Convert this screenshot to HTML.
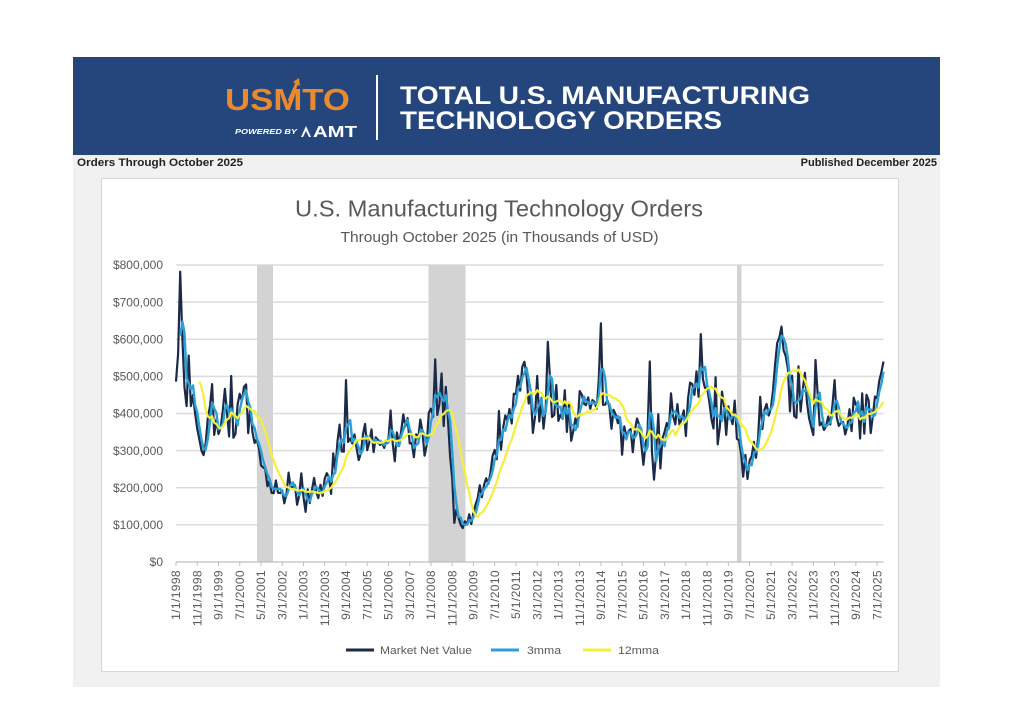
<!DOCTYPE html>
<html><head><meta charset="utf-8"><style>
html,body{margin:0;padding:0;background:#fff;}
svg{display:block;}
text{font-family:"Liberation Sans",sans-serif;}
</style></head><body>
<svg id="s" width="1024" height="728" viewBox="0 0 1024 728" xmlns="http://www.w3.org/2000/svg">
<rect width="1024" height="728" fill="#fff"/>
<rect x="73" y="155" width="867" height="532" fill="#f1f1f1"/>
<rect x="73" y="57" width="867" height="98" fill="#25467d"/>
<!-- logo -->
<text x="225" y="110" font-size="31" font-weight="bold" fill="#e98a2c" textLength="125" lengthAdjust="spacingAndGlyphs">USMTO</text>
<path d="M289 101 L297 83" stroke="#e98a2c" stroke-width="3"/>
<path d="M293 82 L299 78 L300 86 Z" fill="#e98a2c"/>
<text x="235" y="134" font-size="7.5" font-weight="bold" font-style="italic" fill="#fff" textLength="62" lengthAdjust="spacingAndGlyphs">POWERED BY</text>
<path d="M301 137 L306 126 L311 137 Z M303 137 L306 131 L309 137 Z" fill="#fff" fill-rule="evenodd"/>
<text x="313" y="137" font-size="16" font-weight="bold" fill="#fff" textLength="44" lengthAdjust="spacingAndGlyphs">AMT</text>
<rect x="376" y="75" width="2" height="65" fill="#fff"/>
<text x="400" y="104" font-size="25" font-weight="bold" fill="#fff" textLength="410" lengthAdjust="spacingAndGlyphs">TOTAL U.S. MANUFACTURING</text>
<text x="400" y="129" font-size="25" font-weight="bold" fill="#fff" textLength="322" lengthAdjust="spacingAndGlyphs">TECHNOLOGY ORDERS</text>
<text x="77" y="166" font-size="11" font-weight="bold" fill="#222" textLength="166" lengthAdjust="spacingAndGlyphs">Orders Through October 2025</text>
<text x="937" y="166" font-size="11" font-weight="bold" fill="#222" text-anchor="end">Published December 2025</text>
<!-- chart box -->
<rect x="101.5" y="178.5" width="797" height="493" fill="#fff" stroke="#d6d6d6" stroke-width="1"/>
<text x="499" y="216.5" font-size="23" fill="#595959" text-anchor="middle" textLength="408" lengthAdjust="spacingAndGlyphs">U.S. Manufacturing Technology Orders</text>
<text x="499.5" y="242" font-size="14.5" fill="#595959" text-anchor="middle" textLength="318" lengthAdjust="spacingAndGlyphs">Through October 2025 (in Thousands of USD)</text>
<g id="grid" stroke="#dcdcdc" stroke-width="1.5"></g>
<g id="ylab" font-size="12" fill="#595959" text-anchor="end"></g>
<g fill="#d3d3d3">
<rect x="257" y="265" width="16" height="297"/>
<rect x="428.5" y="265" width="37" height="297"/>
<rect x="737" y="265" width="4.5" height="297"/>
</g>
<line x1="176" y1="562" x2="883.5" y2="562" stroke="#bfbfbf" stroke-width="1.2"/>
<g id="ticks" stroke="#bfbfbf" stroke-width="1"></g>
<g id="xlab" font-size="12" fill="#595959" letter-spacing="0.4"></g>
<path id="p1" fill="none" stroke="#1c2a49" stroke-width="2.2" stroke-linejoin="round"/>
<path id="p2" fill="none" stroke="#2b9fd7" stroke-width="2.4" stroke-linejoin="round"/>
<path id="p3" fill="none" stroke="#f3ef3a" stroke-width="2.2" stroke-linejoin="round"/>
<!-- legend -->
<line x1="346" y1="650" x2="374" y2="650" stroke="#1c2a49" stroke-width="3"/>
<text x="380" y="654" font-size="11" fill="#595959" textLength="92" lengthAdjust="spacingAndGlyphs">Market Net Value</text>
<line x1="491" y1="650" x2="519" y2="650" stroke="#2b9fd7" stroke-width="3"/>
<text x="527" y="654" font-size="11" fill="#595959" textLength="34" lengthAdjust="spacingAndGlyphs">3mma</text>
<line x1="583" y1="650" x2="611" y2="650" stroke="#f3ef3a" stroke-width="3"/>
<text x="618" y="654" font-size="11" fill="#595959" textLength="41" lengthAdjust="spacingAndGlyphs">12mma</text>
</svg>
<script>
(function(){
var NS="http://www.w3.org/2000/svg";
function el(tag,attrs,parent,txt){var e=document.createElementNS(NS,tag);for(var k in attrs)e.setAttribute(k,attrs[k]);if(txt!==undefined)e.textContent=txt;parent.appendChild(e);return e;}
var grid=document.getElementById('grid'),ylab=document.getElementById('ylab');
var yl=["$0","$100,000","$200,000","$300,000","$400,000","$500,000","$600,000","$700,000","$800,000"];
for(var k=0;k<=8;k++){var y=562-k*37.125;if(k>0)el('line',{x1:176,y1:y,x2:883.5,y2:y},grid);el('text',{x:163,y:(y+4.2).toFixed(1)},ylab,yl[k]);}
var ticks=document.getElementById('ticks'),xlab=document.getElementById('xlab');
for(var k=0;k<=33;k++){var idx=10*k;var tx=176+idx*2.1245;var m=(idx%12)+1,yr=1998+Math.floor(idx/12);
el('line',{x1:tx,y1:562,x2:tx,y2:566},ticks);
el('text',{transform:'translate('+(tx+4.2).toFixed(1)+',570) rotate(-90)','text-anchor':'end'},xlab,m+'/1/'+yr);}
var A=[[0,500],[2,640],[4,490],[7,450],[10,380],[13,300],[16,390],[20,380],[24,395],[28,400],[32,410],[35,400],[37,360],[40,290],[43,230],[46,185],[49,190],[53,205],[57,195],[61,175],[65,185],[69,200],[72,235],[75,280],[79,320],[83,305],[88,305],[94,320],[100,330],[106,335],[112,345],[117,370],[121,430],[125,420],[127,400],[129,280],[131,150],[133,112],[139,118],[143,175],[147,240],[151,300],[154,360],[158,400],[163,490],[166,440],[172,440],[178,435],[184,395],[190,400],[196,425],[200,480],[203,420],[208,370],[212,340],[218,320],[222,310],[226,320],[232,360],[236,380],[240,410],[244,430],[248,510],[250,440],[254,395],[258,385],[262,380],[265,340],[267,250],[269,260],[272,330],[276,400],[280,480],[283,580],[285,620],[287,540],[290,470],[294,460],[298,400],[302,375],[306,390],[312,370],[318,385],[324,410],[328,420],[331,470],[333,530]];
function lev(i){for(var k=1;k<A.length;k++){if(i<=A[k][0]){var x0=A[k-1][0],y0=A[k-1][1],x1=A[k][0],y1=A[k][1];return y0+(y1-y0)*(i-x0)/(x1-x0);}}return A[A.length-1][1];}
var O={0:486,1:560,2:782,3:600,4:470,5:420,6:556,7:420,8:450,9:400,10:360,11:330,12:300,13:288,14:320,15:390,16:420,26:501,32:472,61:135,80:490,122:546,127:472,131:105,134:100,163:526,175:593,200:643,223:540,228:252,247:614,267:230,283:590,284:605,285:634,286:570,287:555,288:520,301:544,310:490,333:540};
var a=987654;
function r(){a|=0;a=a+0x6D2B79F5|0;var t=Math.imul(a^a>>>15,1|a);t=t+Math.imul(t^t>>>7,61|t)^t;return((t^t>>>14)>>>0)/4294967296;}
var N=334,D=[];
for(var i=0;i<N;i++){var n=r()+r()+r()-1.5;var q=(i%3==2)?0.07:-0.035;var v=lev(i)*(1+0.2*n+q);if(O[i]!==undefined)v=O[i];D.push(v);}
var M3=[],M12=[];
for(var i=0;i<N;i++){if(i>=2)M3[i]=(D[i]+D[i-1]+D[i-2])/3;if(i>=11){var s=0;for(var j=i-11;j<=i;j++)s+=D[j];M12[i]=s/12;}}
function X(i){return 176+i*2.1245;}function Y(v){return 562-v*297/800;}
function P(arr,st){var s='';for(var i=st;i<N;i++){s+=(i==st?'M':'L')+X(i).toFixed(1)+','+Y(arr[i]).toFixed(1);}return s;}
document.getElementById('p1').setAttribute('d',P(D,0));
document.getElementById('p2').setAttribute('d',P(M3,2));
document.getElementById('p3').setAttribute('d',P(M12,11));
})();
</script>
</body></html>
